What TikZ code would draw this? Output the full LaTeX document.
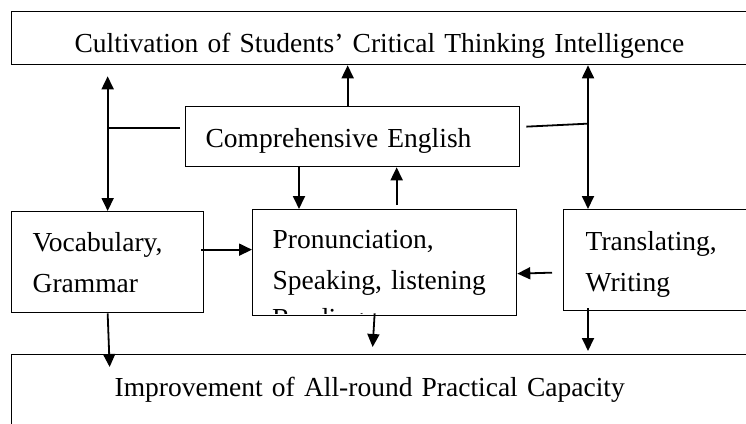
\documentclass[tikz,border=0pt]{standalone}
\usepackage{fontspec}
\setmainfont{Liberation Serif}
\usetikzlibrary{arrows.meta}

\begin{document}
\begin{tikzpicture}[x=1pt, y=-1pt,
    box/.style={draw, line width=1.3pt, anchor=north west, inner ysep=0pt, align=left,
        font=\fontsize{27.5}{41}\selectfont},
    link/.style={line width=1.8pt},
    arr/.style={link, -{Triangle[length=13pt, width=12pt]}},
    darr/.style={link, {Triangle[length=13pt, width=12pt]}-{Triangle[length=13pt, width=12pt]}}]
    \clip (0, 0) rectangle (746, 423);

    % Top and bottom boxes (cut off at the right)
    \node[box, minimum width=745pt, minimum height=53pt, inner xsep=63pt, text width=619pt,
        text height=29pt, text depth=0pt] (Cultivation) at (11, 11)
        {Cultivation of Students’ Critical Thinking Intelligence};
    \node[box, minimum width=745pt, minimum height=70pt, inner xsep=103pt, text width=539pt] (Improvement) at (11, 354)
        {Improvement of All-round Practical Capacity};

    % Middle box
    \node[box, minimum width=334pt, minimum height=60pt, inner xsep=20pt, text width=294pt,
        text height=22pt, text depth=0pt] (Comprehensive) at (185, 106) {Comprehensive English};

    % Skill boxes
    \node[box, minimum width=192pt, minimum height=101pt, inner xsep=21pt, text width=150pt] (Vocabulary) at (11, 211)
        {Vocabulary,\\ Grammar};
    % third line of the middle box is cut off by its lower edge
    \begin{scope}
        \clip (252, 209) rectangle (516, 313);
        \node[anchor=base west, inner sep=0pt, font=\fontsize{27.5}{41}\selectfont] (Reading) at (272, 327) {Reading};
    \end{scope}
    \node[box, minimum width=264pt, minimum height=106pt, inner xsep=20pt, text width=224pt] (Pronunciation) at (252, 209)
        {Pronunciation,\\ Speaking, listening};
    \node[box, minimum width=190pt, minimum height=101pt, inner xsep=22pt, text width=146pt,
        text depth=38pt] (Translating) at (563, 209)
        {Translating,\\ Writing};

    % Helper points on the box edges
    \coordinate (vl) at ([yshift=9pt]Comprehensive.west);
    \coordinate (vr) at ([xshift=25pt]Translating.north west);
    \coordinate (cu) at ([xshift=-5pt]Comprehensive.north);
    \coordinate (cd) at ([xshift=47pt]Pronunciation.north west);
    \coordinate (pu) at ([xshift=12pt, yshift=4pt]Pronunciation.north);
    \coordinate (vp) at ([xshift=-3pt, yshift=12.5pt]Vocabulary.east);
    \coordinate (tp) at ([xshift=-11pt, yshift=-12.5pt]Translating.west);
    \coordinate (pd) at ([xshift=-10pt, yshift=3pt]Pronunciation.south);
    \coordinate (vd) at ([xshift=2pt]Vocabulary.south |- Improvement.north);

    % Connections
    \draw[darr] ([yshift=-11pt]Cultivation.south -| Vocabulary.north) -- (Vocabulary.north);
    \draw[link] ([xshift=-5pt]vl) -- (vl -| Vocabulary.north);
    \draw[darr] (Cultivation.south -| vr) -- (vr);
    \draw[link] ([xshift=6pt, yshift=10pt]Comprehensive.east) -- ([yshift=13pt]Comprehensive.east -| vr);
    \draw[arr] (cu) -- (cu |- Cultivation.south);
    \draw[arr] (cd |- Comprehensive.south) -- (cd);
    \draw[arr] (pu) -- (pu |- Comprehensive.south);
    \draw[arr] (vp) -- (vp -| Pronunciation.west);
    \draw[arr] (tp) -- ([yshift=-1pt]tp -| Pronunciation.east);
    \draw[arr] (Vocabulary.south) -- ([yshift=-13pt]vd);
    \draw[arr] (pd) -- ([xshift=-2pt, yshift=7pt]pd |- Improvement.north);
    \draw[arr] ([yshift=3pt]vr |- Translating.south) -- ([yshift=3pt]vr |- Improvement.north);
\end{tikzpicture}
\end{document}
